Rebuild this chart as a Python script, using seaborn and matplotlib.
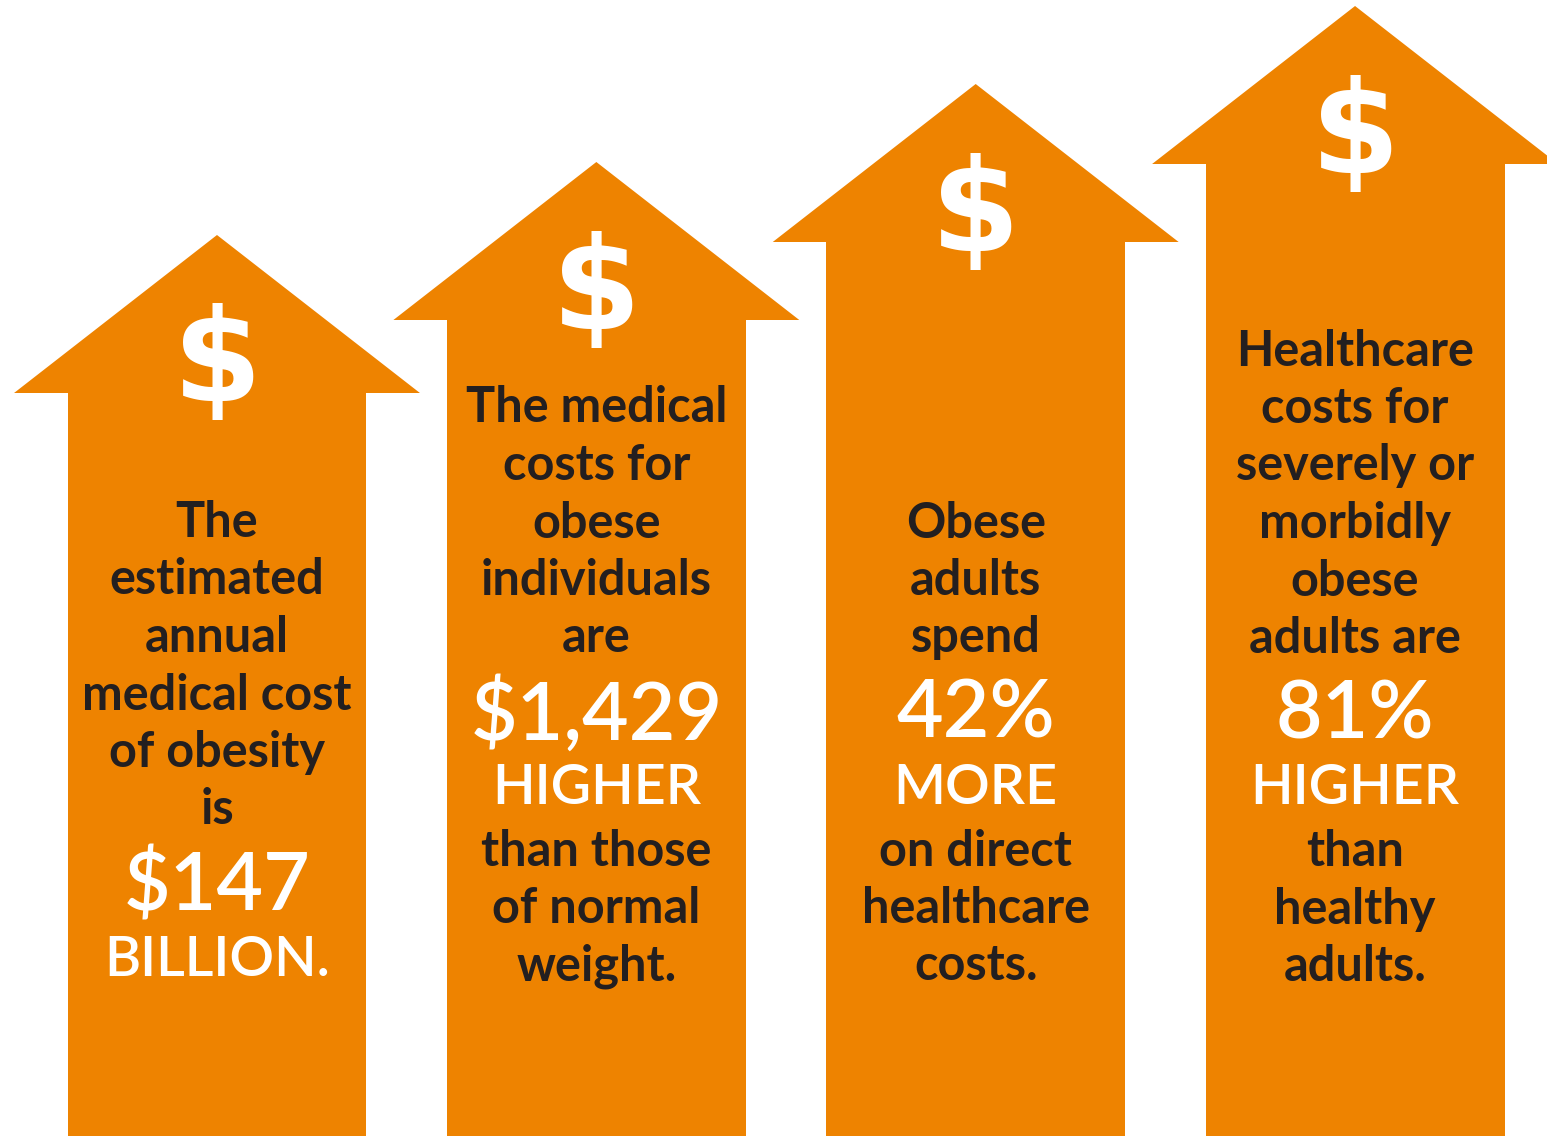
import matplotlib
matplotlib.use("Agg")
import matplotlib.pyplot as plt
from matplotlib.patches import Polygon
import seaborn as sns
import pandas as pd

# ---- data ----
categories = ["Annual cost", "Per-person cost", "Direct spending", "Severe obesity"]
shaft_tops = [743, 816, 894, 972]          # height of arrow shaft (px units from bottom)
head_height = 158

text_lines = [
    ["The", "estimated", "annual", "medical cost", "of obesity", "is"],
    ["The medical", "costs for", "obese", "individuals", "are"],
    ["Obese", "adults", "spend"],
    ["Healthcare", "costs for", "severely or", "morbidly", "obese", "adults are"],
]
big_values = ["$147", "$1,429", "42%", "81%"]
caps_words = ["BILLION.", "HIGHER", "MORE", "HIGHER"]
tail_lines = [
    [],
    ["than those", "of normal", "weight."],
    ["on direct", "healthcare", "costs."],
    ["than", "healthy", "adults."],
]

ORANGE = "#EE8300"
DARK = "#231F20"
W, H = 1547, 1136

sns.set_theme(style="white")
plt.rcParams["font.family"] = ["Lato", "DejaVu Sans"]

fig = plt.figure(figsize=(W / 100, H / 100), dpi=100)
ax = fig.add_axes([0, 0, 1, 1])

df = pd.DataFrame({"cat": categories, "top": shaft_tops})
sns.barplot(data=df, x="cat", y="top", color=ORANGE, saturation=1,
            width=0.788, linewidth=0, ax=ax)

head_half = 0.535
for i, top in enumerate(shaft_tops):
    ax.add_patch(Polygon([(i - head_half, top), (i + head_half, top),
                          (i, top + head_height)], closed=True,
                         facecolor=ORANGE, edgecolor="none", zorder=3))
    # dollar sign in the head
    ax.text(i, top + 27, "$", ha="center", va="center", color="white",
            fontsize=92, fontweight="bold", family=["DejaVu Sans"], zorder=4)

# text layout (px from top), stacked downward from the big number
GAP_N = 57.5
BIG_Y = [887, 715, 715, 715.5]
BODY_SIZE = 35
for i in range(4):
    by = BIG_Y[i]
    above = text_lines[i]
    y0 = by - 77
    for k, line in enumerate(reversed(above)):
        y = y0 - k * GAP_N
        ax.text(i, H - y, line, ha="center", va="center", color=DARK,
                fontsize=BODY_SIZE, fontweight="bold", zorder=4)
    ax.text(i, H - by, big_values[i], ha="center", va="center", color="white",
            fontsize=58, fontweight="semibold", zorder=4)
    cy = by + 73
    ax.text(i, H - cy, caps_words[i], ha="center", va="center", color="white",
            fontsize=40, fontweight="semibold", zorder=4)
    for k, line in enumerate(tail_lines[i]):
        y = cy + 63 + k * GAP_N
        ax.text(i, H - y, line, ha="center", va="center", color=DARK,
                fontsize=BODY_SIZE, fontweight="bold", zorder=4)

ax.set_xlim(-0.572, 3.506)
ax.set_ylim(0, H)
ax.set_axis_off()

fig.savefig("out.png", dpi=100, facecolor="white")
